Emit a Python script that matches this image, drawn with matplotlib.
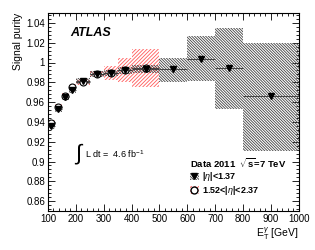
import numpy as np
import matplotlib.pyplot as plt
from matplotlib.patches import Patch
from matplotlib.lines import Line2D
from matplotlib.ticker import MultipleLocator

plt.rcParams['font.family'] = ['Liberation Sans', 'DejaVu Sans']
plt.rcParams['mathtext.fontset'] = 'custom'
plt.rcParams['mathtext.rm'] = 'Liberation Sans'
plt.rcParams['mathtext.it'] = 'Liberation Sans:italic'
plt.rcParams['mathtext.bf'] = 'Liberation Sans:bold'
plt.rcParams['hatch.linewidth'] = 0.6

# barrel |eta|<1.37
bar_edges = [100, 125, 150, 175, 200, 250, 300, 350, 400, 500, 600, 700, 800, 1000]
bar_val = [0.936, 0.953, 0.965, 0.972, 0.981, 0.988, 0.989, 0.992, 0.993, 0.993, 1.004, 0.994, 0.966]
bar_lo = [0.933, 0.950, 0.962, 0.969, 0.978, 0.985, 0.986, 0.988, 0.989, 0.980, 0.981, 0.953, 0.911]
bar_hi = [0.939, 0.956, 0.968, 0.975, 0.984, 0.991, 0.992, 0.995, 0.997, 1.005, 1.027, 1.035, 1.020]

# endcap 1.52<|eta|<2.37
end_edges = [100, 125, 150, 175, 200, 250, 300, 350, 400, 500]
end_val = [0.939, 0.955, 0.966, 0.975, 0.980, 0.988, 0.989, 0.992, 0.994]
end_lo = [0.936, 0.952, 0.963, 0.972, 0.977, 0.9855, 0.982, 0.980, 0.9755]
end_hi = [0.942, 0.958, 0.969, 0.978, 0.983, 0.991, 0.996, 1.0045, 1.0135]


def centers(edges):
    e = np.array(edges, dtype=float)
    return 0.5 * (e[1:] + e[:-1]), 0.5 * (e[1:] - e[:-1])


fig = plt.figure(figsize=(3.15, 2.5), dpi=100)
ax = fig.add_axes([0.152, 0.156, 0.797, 0.792])

grey = '#404040'
red = '#ff5a5a'
grey_hatch = '\\' * 12
red_hatch = '/' * 9

# uncertainty bands
ax.bar(end_edges[:-1], np.array(end_hi) - np.array(end_lo), width=np.diff(end_edges),
       bottom=end_lo, align='edge', facecolor='none', edgecolor=red, hatch=red_hatch,
       linewidth=0, zorder=1)
ax.bar(bar_edges[:-1], np.array(bar_hi) - np.array(bar_lo), width=np.diff(bar_edges),
       bottom=bar_lo, align='edge', facecolor='none', edgecolor=grey, hatch=grey_hatch,
       linewidth=0, zorder=2)

xe, we = centers(end_edges)
ax.errorbar(xe, end_val, xerr=we, fmt='o', ms=5, mfc='white', mec='black', mew=0.8,
            ecolor='#333333', elinewidth=0.6, capsize=0, zorder=3)
xb, wb = centers(bar_edges)
ax.errorbar(xb, bar_val, xerr=wb, fmt='v', ms=5, mfc='black', mec='black',
            ecolor='#333333', elinewidth=0.6, capsize=0, zorder=4)

ax.set_xlim(100, 1000)
ax.set_ylim(0.85, 1.05)
ax.xaxis.set_major_locator(MultipleLocator(100))
ax.xaxis.set_minor_locator(MultipleLocator(20))
ax.yaxis.set_minor_locator(MultipleLocator(0.004))
ax.set_yticks([0.86, 0.88, 0.9, 0.92, 0.94, 0.96, 0.98, 1.0, 1.02, 1.04])
ax.set_yticklabels(['0.86', '0.88', '0.9', '0.92', '0.94', '0.96', '0.98', '1', '1.02', '1.04'])
ax.tick_params(which='both', direction='in', top=True, right=True, labelsize=7, pad=2,
               width=0.6)
ax.tick_params(which='major', length=5)
ax.tick_params(which='minor', length=2.5)
for s in ax.spines.values():
    s.set_linewidth(0.8)

ax.set_ylabel('Signal purity', fontsize=7.5, loc='top', labelpad=2)
ax.set_xlabel(r'E$_{\mathrm{T}}^{\gamma}$ [GeV]', fontsize=7.5, loc='right', labelpad=1)

ax.text(0.088, 0.9, 'ATLAS', transform=ax.transAxes, fontsize=9,
        fontweight='bold', fontstyle='italic', va='center')
ax.text(0.105, 0.285, r'$\int$', transform=ax.transAxes, fontsize=16, va='center')
ax.text(0.148, 0.288, r'L dt =  4.6 fb$^{-1}$', transform=ax.transAxes,
        fontsize=6.5, va='center')

h1 = (Patch(facecolor='none', edgecolor=grey, hatch=grey_hatch, linewidth=0),
      Line2D([], [], marker='v', color='black', ms=5, ls='none'))
h2 = (Patch(facecolor='none', edgecolor=red, hatch=red_hatch, linewidth=0),
      Line2D([], [], marker='o', mfc='white', mec='black', ms=5, ls='none'))
leg = ax.legend([h1, h2], [r'|$\eta$|<1.37', r'1.52<|$\eta$|<2.37'],
                title=r'Data 2011  $\sqrt{\mathbf{s}}$=7 TeV', loc='upper left',
                bbox_to_anchor=(0.54, 0.31), frameon=False, alignment='left',
                handlelength=1.0, handleheight=0.9, handletextpad=0.3,
                labelspacing=0.1, borderpad=0.2,
                prop={'size': 6.5, 'weight': 'bold'},
                title_fontproperties={'size': 6.8, 'weight': 'bold'})

fig.savefig('out.png', dpi=100)
